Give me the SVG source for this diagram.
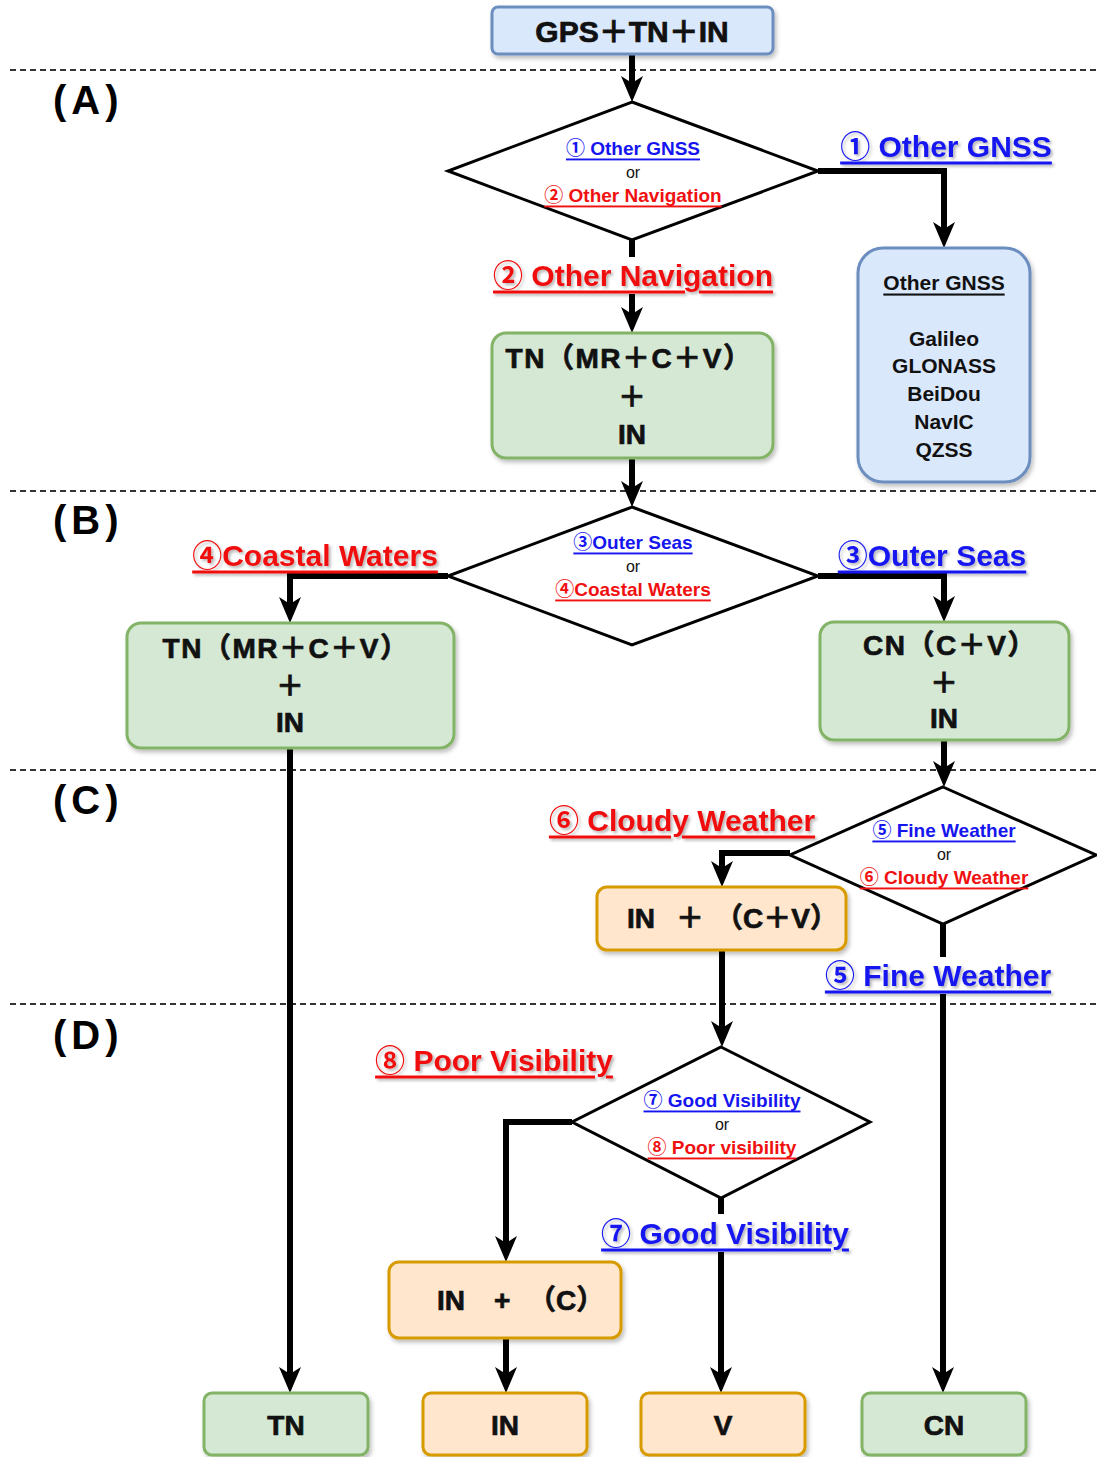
<svg xmlns="http://www.w3.org/2000/svg" width="1097" height="1457" viewBox="0 0 1097 1457">
  <defs>
    <marker id="arrow" viewBox="0 -12 26 24" refX="18" refY="0" markerWidth="26" markerHeight="24" markerUnits="userSpaceOnUse" orient="auto">
      <path d="M0,-11 L26,0 L0,11 L7,0 Z" fill="#000"/>
    </marker>
    <filter id="shadow" x="-10%" y="-10%" width="125%" height="130%">
      <feDropShadow dx="2" dy="3" stdDeviation="2" flood-color="#000" flood-opacity="0.25"/>
    </filter>
    <filter id="tshadow" x="-5%" y="-20%" width="110%" height="150%">
      <feDropShadow dx="2" dy="2" stdDeviation="1.5" flood-color="#000" flood-opacity="0.3"/>
    </filter>
  </defs>
  <style>
    text { font-family: "Liberation Sans", "Noto Sans CJK JP", sans-serif; text-anchor: middle; dominant-baseline: central; }
    .sep { stroke: #333; stroke-width: 2; stroke-dasharray: 6 4; fill: none; }
    .sec { font-size: 40px; font-weight: bold; fill: #000; text-anchor: start; letter-spacing: 5px; }
    .blue { fill: #dae8fc; stroke: #6c8ebf; stroke-width: 3; }
    .green { fill: #d5e8d4; stroke: #82b366; stroke-width: 3; }
    .orange { fill: #ffe6cc; stroke: #d79b00; stroke-width: 3; }
    .dia { fill: #fff; stroke: #000; stroke-width: 3; }
    .big { font-size: 28px; font-weight: bold; fill: #111; stroke: #111; stroke-width: 0.7; }
    .list { font-size: 21px; font-weight: bold; fill: #111; }
    .q { font-size: 19px; font-weight: bold; text-decoration: underline; }
    .or { font-size: 16px; fill: #111; }
    .lbl { font-size: 30px; font-weight: bold; text-decoration: underline; filter: url(#tshadow); }
    .bg { fill: #fff; }
    .b { fill: #1515f0; }
    .r { fill: #f01010; }
    .edge { fill: none; stroke: #000; stroke-width: 6; stroke-linejoin: miter; }
  </style>

  <!-- section separators -->
  <g id="separators">
    <line class="sep" x1="10" y1="70" x2="1097" y2="70"/>
    <line class="sep" x1="10" y1="491" x2="1097" y2="491"/>
    <line class="sep" x1="10" y1="770" x2="1097" y2="770"/>
    <line class="sep" x1="10" y1="1004" x2="1097" y2="1004"/>
    <text class="sec" x="53" y="100">(A)</text>
    <text class="sec" x="53" y="520">(B)</text>
    <text class="sec" x="53" y="800">(C)</text>
    <text class="sec" x="53" y="1035">(D)</text>
  </g>

  <!-- connectors -->
  <g id="connectors">
    <path class="edge" d="M632,54 V94" marker-end="url(#arrow)"/>
    <path class="edge" d="M818,171 H944 V240" marker-end="url(#arrow)"/>
    <path class="edge" d="M632,240 V325" marker-end="url(#arrow)"/>
    <path class="edge" d="M632,458 V499" marker-end="url(#arrow)"/>
    <path class="edge" d="M448,576 H290 V615" marker-end="url(#arrow)"/>
    <path class="edge" d="M818,576 H944 V614" marker-end="url(#arrow)"/>
    <path class="edge" d="M944,740 V779" marker-end="url(#arrow)"/>
    <path class="edge" d="M790,853 H722 V879" marker-end="url(#arrow)"/>
    <path class="edge" d="M943,924 V1385" marker-end="url(#arrow)"/>
    <path class="edge" d="M722,950 V1039" marker-end="url(#arrow)"/>
    <path class="edge" d="M572,1122 H506 V1254" marker-end="url(#arrow)"/>
    <path class="edge" d="M721,1198 V1385" marker-end="url(#arrow)"/>
    <path class="edge" d="M506,1338 V1385" marker-end="url(#arrow)"/>
    <path class="edge" d="M290,748 V1385" marker-end="url(#arrow)"/>

    <!-- branch labels on white plates -->
    <rect class="bg" x="834" y="128" width="224" height="36"/>
    <text class="lbl b" x="946" y="146">① Other GNSS</text>
    <rect class="bg" x="488" y="257" width="292" height="37"/>
    <text class="lbl r" x="633" y="275">② Other Navigation</text>
    <rect class="bg" x="186" y="537" width="258" height="36"/>
    <text class="lbl r" x="315" y="555">④Coastal Waters</text>
    <rect class="bg" x="833" y="537" width="198" height="36"/>
    <text class="lbl b" x="932" y="555">③Outer Seas</text>
    <rect class="bg" x="543" y="802" width="278" height="36"/>
    <text class="lbl r" x="682" y="820">⑥ Cloudy Weather</text>
    <rect class="bg" x="818" y="957" width="240" height="37"/>
    <text class="lbl b" x="938" y="975">⑤ Fine Weather</text>
    <rect class="bg" x="365" y="1042" width="258" height="36"/>
    <text class="lbl r" x="494" y="1060">⑧ Poor Visibility </text>
    <rect class="bg" x="595" y="1214" width="260" height="38"/>
    <text class="lbl b" x="725" y="1233">⑦ Good Visibility</text>
  </g>

  <!-- start -->
  <g id="start">
    <rect class="blue" x="492" y="7" width="281" height="47" rx="6" filter="url(#shadow)"/>
    <text class="big" x="632" y="31" style="font-size:30px">GPS＋TN＋IN</text>
  </g>

  <!-- decision: other GNSS or other navigation -->
  <g id="decision-a">
    <polygon class="dia" points="632,102 818,171 632,240 448,171"/>
    <text class="q b" x="633" y="148">① Other GNSS</text>
    <text class="or" x="633" y="172">or</text>
    <text class="q r" x="633" y="195">② Other Navigation</text>
  </g>

  <g id="other-gnss">
    <rect class="blue" x="858" y="248" width="172" height="234" rx="25" filter="url(#shadow)"/>
    <text class="list" x="944" y="282" style="text-decoration:underline">Other GNSS</text>
    <text class="list" x="944" y="338">Galileo</text>
    <text class="list" x="944" y="365">GLONASS</text>
    <text class="list" x="944" y="393">BeiDou</text>
    <text class="list" x="944" y="421">NavIC</text>
    <text class="list" x="944" y="449">QZSS</text>
  </g>

  <g id="tn-in-a">
    <rect class="green" x="492" y="333" width="281" height="125" rx="14" filter="url(#shadow)"/>
    <text class="big" x="629" y="358" letter-spacing="1.5">TN（MR＋C＋V）</text>
    <text class="big" x="632" y="397">＋</text>
    <text class="big" x="632" y="434">IN</text>
  </g>

  <!-- decision: outer seas or coastal waters -->
  <g id="decision-b">
    <polygon class="dia" points="632,507 818,576 632,645 448,576"/>
    <text class="q b" x="633" y="542">③Outer Seas</text>
    <text class="or" x="633" y="566">or</text>
    <text class="q r" x="633" y="589">④Coastal Waters</text>
  </g>

  <g id="tn-in-b">
    <rect class="green" x="127" y="623" width="327" height="125" rx="14" filter="url(#shadow)"/>
    <text class="big" x="286" y="648" letter-spacing="1.5">TN（MR＋C＋V）</text>
    <text class="big" x="290" y="686">＋</text>
    <text class="big" x="290" y="722">IN</text>
  </g>

  <g id="cn-in">
    <rect class="green" x="820" y="622" width="249" height="118" rx="14" filter="url(#shadow)"/>
    <text class="big" x="950" y="645" letter-spacing="1.5">CN（C＋V）</text>
    <text class="big" x="944" y="683">＋</text>
    <text class="big" x="944" y="718">IN</text>
  </g>

  <!-- decision: fine or cloudy weather -->
  <g id="decision-c">
    <polygon class="dia" points="943,787 1096,855 943,924 790,855"/>
    <text class="q b" x="944" y="830">⑤ Fine Weather</text>
    <text class="or" x="944" y="854">or</text>
    <text class="q r" x="944" y="877">⑥ Cloudy Weather</text>
  </g>

  <g id="in-cv">
    <rect class="orange" x="597" y="887" width="249" height="63" rx="10" filter="url(#shadow)"/>
    <text class="big" y="918" style="text-anchor:start"><tspan x="627">IN</tspan><tspan x="676">＋</tspan><tspan x="715">（C＋V）</tspan></text>
  </g>

  <!-- decision: good or poor visibility -->
  <g id="decision-d">
    <polygon class="dia" points="721,1047 870,1122 721,1198 572,1122"/>
    <text class="q b" x="722" y="1100">⑦ Good Visibility </text>
    <text class="or" x="722" y="1124">or</text>
    <text class="q r" x="722" y="1147">⑧ Poor visibility </text>
  </g>

  <g id="in-c">
    <rect class="orange" x="389" y="1262" width="232" height="76" rx="10" filter="url(#shadow)"/>
    <text class="big" y="1300" style="text-anchor:start"><tspan x="437">IN</tspan><tspan x="494">+</tspan><tspan x="528">（C）</tspan></text>
  </g>

  <!-- outcomes -->
  <g id="out-tn">
    <rect class="green" x="204" y="1393" width="164" height="62" rx="8" filter="url(#shadow)"/>
    <text class="big" x="286" y="1425">TN</text>
  </g>
  <g id="out-in">
    <rect class="orange" x="423" y="1393" width="164" height="62" rx="8" filter="url(#shadow)"/>
    <text class="big" x="505" y="1425">IN</text>
  </g>
  <g id="out-v">
    <rect class="orange" x="641" y="1393" width="164" height="62" rx="8" filter="url(#shadow)"/>
    <text class="big" x="723" y="1425">V</text>
  </g>
  <g id="out-cn">
    <rect class="green" x="862" y="1393" width="164" height="62" rx="8" filter="url(#shadow)"/>
    <text class="big" x="944" y="1425">CN</text>
  </g>
</svg>
